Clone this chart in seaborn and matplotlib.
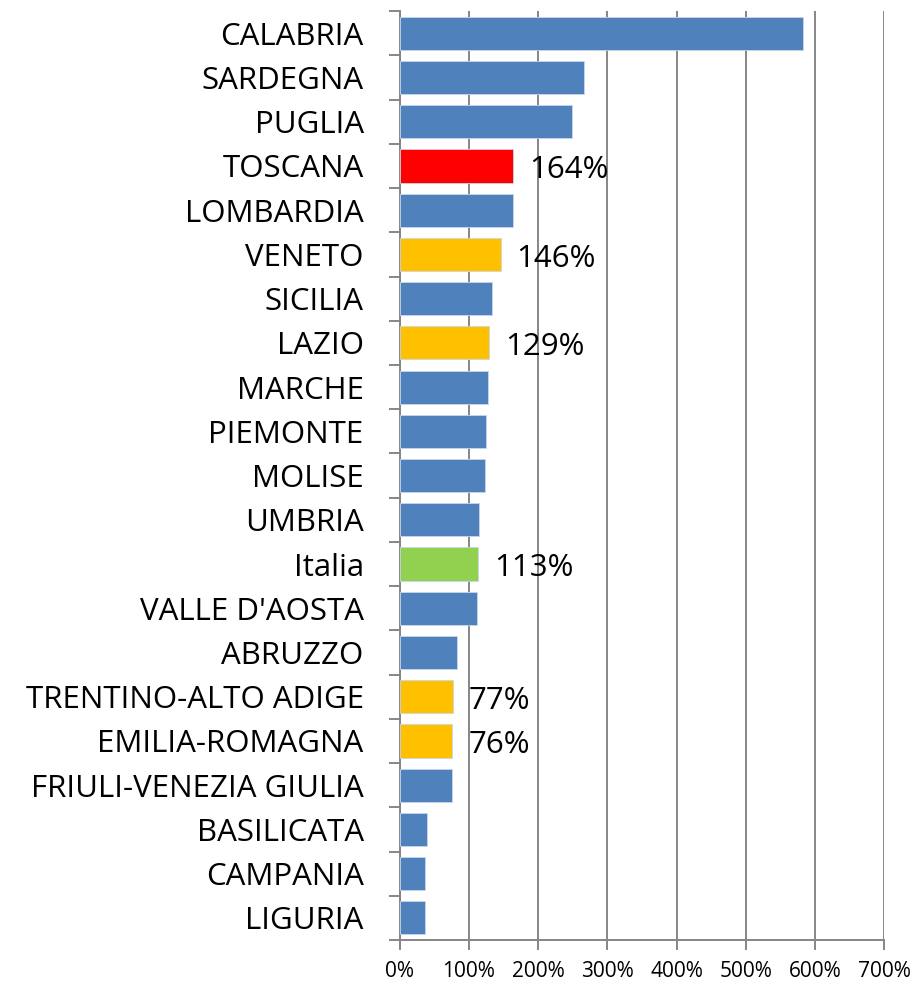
import matplotlib
matplotlib.use("Agg")
import matplotlib.pyplot as plt
import seaborn as sns
import pandas as pd
from matplotlib.ticker import FixedLocator, PercentFormatter

# regioni e valori (%)
regioni = ["CALABRIA", "SARDEGNA", "PUGLIA", "TOSCANA", "LOMBARDIA", "VENETO",
           "SICILIA", "LAZIO", "MARCHE", "PIEMONTE", "MOLISE", "UMBRIA", "Italia",
           "VALLE D'AOSTA", "ABRUZZO", "TRENTINO-ALTO ADIGE", "EMILIA-ROMAGNA",
           "FRIULI-VENEZIA GIULIA", "BASILICATA", "CAMPANIA", "LIGURIA"]
valori = [583, 267, 249, 164, 164, 146, 134, 129, 128, 125, 123, 114, 113,
          112, 83, 77, 76, 75, 39, 37, 36]
# regioni evidenziate con etichetta
etichette = {"TOSCANA": "164%", "VENETO": "146%", "LAZIO": "129%", "Italia": "113%",
             "TRENTINO-ALTO ADIGE": "77%", "EMILIA-ROMAGNA": "76%"}
colori_speciali = {"TOSCANA": "#FF0000", "VENETO": "#FFC000", "LAZIO": "#FFC000",
                   "Italia": "#92D050", "TRENTINO-ALTO ADIGE": "#FFC000",
                   "EMILIA-ROMAGNA": "#FFC000"}

df = pd.DataFrame({"regione": regioni, "valore": valori})
palette = {r: colori_speciali.get(r, "#4F81BD") for r in regioni}

sns.set_style("white")
plt.rcParams['font.family'] = ['Open Sans', 'DejaVu Sans']
plt.rcParams['text.color'] = 'black'
plt.rcParams['xtick.labelcolor'] = 'black'
plt.rcParams['ytick.labelcolor'] = 'black'

fig = plt.figure(figsize=(9.19, 9.84), dpi=100)
ax = fig.add_axes([0.435, 0.0447, 0.527, 0.944])

sns.barplot(data=df, x="valore", y="regione", hue="regione", palette=palette,
            legend=False, width=0.75, saturation=1, edgecolor="#C9D6EA",
            linewidth=0.6, ax=ax, zorder=3)

for i, r in enumerate(regioni):
    if r in etichette:
        ax.text(df["valore"][i] + 23, i + 0.1, etichette[r], va="center",
                ha="left", fontsize=22.5, color="black", zorder=4)

ax.set_xlim(0, 700)
ax.set_ylim(len(regioni) - 0.5, -0.5)
ax.xaxis.set_major_locator(FixedLocator(range(0, 701, 100)))
ax.xaxis.set_major_formatter(PercentFormatter(decimals=0))
ax.grid(axis="x", color="#868686", linewidth=1.4, zorder=0)
ax.grid(axis="y", visible=False)

for s in ["top", "right"]:
    ax.spines[s].set_visible(False)
for s in ["left", "bottom"]:
    ax.spines[s].set_color("#868686")
    ax.spines[s].set_linewidth(1.4)

ax.set_xlabel("")
ax.set_ylabel("")
ax.tick_params(axis="x", direction="out", length=7, width=1.4, color="#868686",
               labelsize=15, pad=8, bottom=True)
ax.tick_params(axis="y", which="major", length=0, labelsize=22.5, pad=26)
ax.set_yticks([i + 0.5 for i in range(-1, len(regioni))], minor=True)
ax.tick_params(axis="y", which="minor", direction="out", length=8, width=1.4,
               color="#868686", left=True)

fig.savefig("out.png", dpi=100)
